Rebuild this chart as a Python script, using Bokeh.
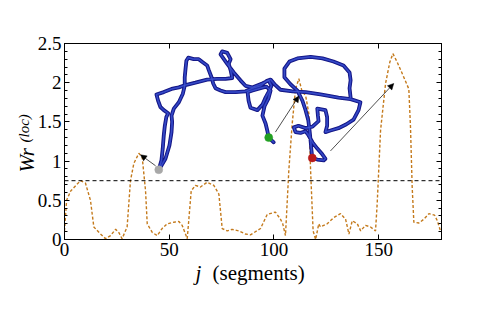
from bokeh.plotting import figure
from bokeh.models import (Range1d, FixedTicker, LinearAxis, Span, Arrow,
                          NormalHead, ColumnDataSource, CustomJSTickFormatter)
from bokeh.core.properties import value
from bokeh.embed import file_html
from bokeh.resources import INLINE

nan = float("nan")

# local writhe along the chain
j_seg = [0, 1, 3, 7.6, 10, 12.4, 14, 17.2, 19.6, 22, 24.4, 25.9, 27.5, 29.9, 31.5,
         33.1, 35.5, 37.1, 38.7, 39.5, 41.9, 44.3, 46.6, 49, 52.2, 54.6, 56.2, 58.6,
         60.5, 62.5, 64.9, 68.1, 71.3, 73.7, 75.3, 77.7, 80, 83.2, 86.4, 88.8, 93.6,
         96.8, 100.7, 103.1, 104.2, 105.5, 107.1, 108.7, 110.3, 111.9, 113.5, 115.1,
         116.7, 117.5, 118.7, 119.9, 121.4, 122.2, 125.4, 128.6, 131.8, 134.2, 135.8,
         137.4, 139.8, 141.4, 143.7, 146.1, 148.5, 149.3, 150.9, 153.3, 155.3, 156.8,
         158.9, 162.0, 164.4, 165.2, 166.0, 166.8, 169.2, 171.6, 174, 176.7, 178, 179.5]
wr_loc = [0.11, 0.5, 0.62, 0.75, 0.72, 0.50, 0.16, 0.07, 0.01, 0.05, 0.13, 0.09, 0.01,
          0.16, 0.75, 0.97, 1.10, 1.05, 0.62, 0.20, 0.09, 0.05, 0.14, 0.20, 0.22, 0.23,
          0.18, 0.01, 0.62, 0.69, 0.67, 0.73, 0.69, 0.58, 0.14, 0.11, 0.13, 0.11, 0.07,
          0.06, 0.14, 0.32, 0.35, 0.26, 0.20, 0.05, 0.88, 1.47, 1.92, 2.05, 1.88, 1.84,
          1.60, 0.88, 0.11, 0.0, 0.20, 0.16, 0.20, 0.28, 0.33, 0.26, 0.07, 0.24, 0.20,
          0.11, 0.18, 0.16, 0.11, 0.46, 1.39, 1.99, 2.26, 2.37, 2.26, 2.07, 1.92, 1.43,
          0.67, 0.22, 0.21, 0.26, 0.33, 0.31, 0.24, 0.11]
threshold = 0.75

# projected chain (inset drawn in data units)
knot_x = [45.0, 46.3, 46.9, 47.4, 47.9, 48.6, 49.5, 47.4, 45.8, 44.7, 43.9, 47.4, 51.1,
          54.6, 57.8, 62.5, 68.1, 72.9, 76.9, 80.1, 79.3, 78.4, 79.3, 77.7, 75.3, 74.5,
          76.1, 77.7, 80.8, 84.0, 86.4, 89.6, 94.4, 97.5, 98.8, 97.4, 96.0, 94.5, 92.1,
          88.8, 87.9, 87.4, 89.8, 93.6, 96.4, 98.4, 97.4, 95.5, 94.5, 96.0, 96.9, 97.5,
          99.9, nan,
          45.8, 48.2, 50.1, 51.1, 51.4, 51.1, 52.2, 54.6, 56.5, 57.4, 57.4, 57.8, 58.2,
          59.1, 61.7, 64.1, 66.0, 68.1, 68.9, 70.2, 71.0, 72.1, 74.5, 76.9, 81.6, 86.4,
          89.8, 93.6, 96.4, 98.4, 100.3, 103.1, 108.9, 115.1, 122.2, 130.8, 136.6, 141.3,
          140.4, 138.0, 134.6, 130.8, 127.0, 124.6, 125.4, 125.4, 124.6, 120.7, 121.0,
          121.3, 118.4, 115.1, 111.7, 109.5, 110.3, 112.7, 115.1, 116.5, 118.4, 120.7,
          123.0, 124.6, 123.8, 120.7, 118.3, 117.9, 117.5, 117.0, 116.4, 115.1, 113.6,
          111.2, 107.9, 105.0, 105.0, 107.4, 111.2, 117.5, 123.2, 128.4, 133.2, 136.1,
          136.6, 136.1, 136.6]
knot_y = [0.89, 1.01, 1.16, 1.33, 1.45, 1.56, 1.61, 1.65, 1.69, 1.77, 1.85, 1.88, 1.92,
          1.94, 1.97, 2.00, 2.04, 2.05, 2.05, 2.06, 2.16, 2.24, 2.30, 2.38, 2.40, 2.36,
          2.30, 2.24, 2.13, 2.03, 1.96, 1.94, 1.99, 2.03, 1.96, 1.88, 1.81, 1.72, 1.65,
          1.68, 1.77, 1.88, 1.90, 1.93, 1.95, 1.90, 1.80, 1.70, 1.58, 1.48, 1.38, 1.30,
          1.24, nan,
          0.92, 1.03, 1.20, 1.37, 1.50, 1.58, 1.67, 1.75, 1.86, 1.96, 2.07, 2.18, 2.28,
          2.32, 2.30, 2.30, 2.26, 2.22, 2.16, 2.07, 1.99, 1.93, 1.90, 1.88, 1.88, 1.89,
          1.93, 1.96, 2.02, 2.04, 1.98, 1.91, 1.89, 1.88, 1.85, 1.81, 1.79, 1.75,
          1.65, 1.53, 1.47, 1.42, 1.39, 1.37, 1.45, 1.56, 1.65, 1.67, 1.58,
          1.51, 1.44, 1.42, 1.45, 1.43, 1.37, 1.36, 1.38, 1.33, 1.24, 1.16,
          1.09, 1.03, 1.01, 1.02, 1.04, 1.14, 1.26, 1.39, 1.52, 1.65, 1.77,
          1.90, 1.98, 2.07, 2.18, 2.27, 2.31, 2.33, 2.31, 2.27, 2.22, 2.13,
          2.03, 1.93, 1.81]

# marked beads and arrows pointing to the corresponding peaks
bead_x = [45.0, 97.5, 118.3]
bead_y = [0.89, 1.30, 1.04]
bead_color = ["#a8a8a8", "#22a022", "#b81a1a"]
arrow_x0 = [43.5, 100.7, 127.0]
arrow_y0 = [0.94, 1.37, 1.13]
arrow_x1 = [36.3, 111.9, 157.2]
arrow_y1 = [1.08, 1.83, 1.99]

x_ticks = [0, 50, 100, 150]
y_ticks = [0, 0.5, 1, 1.5, 2, 2.5]
y_minor = [round(0.1 * i, 1) for i in range(26)]

FONT = "Liberation Serif"

p = figure(width=482, height=316, output_backend="svg", toolbar_location=None,
           x_range=Range1d(0, 180), y_range=Range1d(0, 2.5),
           min_border_left=64, min_border_right=41, min_border_top=43,
           min_border_bottom=77, x_axis_location=None, y_axis_location=None)
p.grid.visible = False
p.outline_line_color = "black"
p.outline_line_width = 1
p.background_fill_color = "white"
p.border_fill_color = "white"

fmt = CustomJSTickFormatter(code="return tick.toString();")


def make_axis(is_x, show_labels):
    ax = LinearAxis()
    if is_x:
        ax.ticker = FixedTicker(ticks=x_ticks, minor_ticks=[])
    else:
        ax.ticker = FixedTicker(ticks=y_ticks, minor_ticks=y_minor)
    ax.formatter = fmt
    ax.axis_line_color = "black"
    ax.major_tick_in = 5
    ax.major_tick_out = 0
    ax.minor_tick_in = 3
    ax.minor_tick_out = 0
    ax.major_tick_line_color = "black"
    ax.minor_tick_line_color = "black"
    ax.major_label_text_font = FONT
    ax.major_label_text_color = "black"
    ax.major_label_text_font_size = "19px"
    ax.major_label_standoff = 3
    if not show_labels:
        ax.major_label_text_alpha = 0
        ax.major_label_text_color = None
        ax.major_label_text_font_size = "1px"
    return ax


p.add_layout(make_axis(True, True), "below")
p.add_layout(make_axis(True, False), "above")
p.add_layout(make_axis(False, True), "left")
p.add_layout(make_axis(False, False), "right")

# Wr(loc) dashed curve
p.line(j_seg, wr_loc, line_color="#c47a1c", line_width=1.4, line_dash="3 2")

# threshold
p.add_layout(Span(location=threshold, dimension="width", line_color="black",
                  line_width=1, line_dash="4 3"))

# chain drawn as a tube
p.line(knot_x, knot_y, line_color="#12127e", line_width=3.8, line_join="round",
       line_cap="round")
p.line(knot_x, knot_y, line_color="#2233b4", line_width=2.2, line_join="round",
       line_cap="round")
p.line(knot_x, knot_y, line_color="#5a70e0", line_width=0.8, line_alpha=0.6,
       line_join="round", line_cap="round")

# arrows
asrc = ColumnDataSource(dict(x0=arrow_x0, y0=arrow_y0, x1=arrow_x1, y1=arrow_y1))
p.add_layout(Arrow(source=asrc, x_start="x0", y_start="y0", x_end="x1", y_end="y1",
                   line_color="black", line_width=0.7,
                   end=NormalHead(size=6, fill_color="black", line_color="black",
                                  line_width=0.5)))

# beads
p.scatter(bead_x, bead_y, size=8, fill_color=bead_color, line_color=bead_color,
          line_width=0.5)

# axis labels as text drawn above everything (positions in px from frame origin)
PX_X = 180 / 377.0
PX_Y = 2.5 / 196.0
LABEL_FONT = "'Liberation Serif'"


def put_text(px, py, txt, size, italic, angle=0.0):
    r = p.text(x=[px * PX_X], y=[py * PX_Y], text=[txt], angle=angle,
               text_font=value(LABEL_FONT), text_font_size=size,
               text_font_style="italic" if italic else "normal",
               text_align="left", text_baseline="middle", text_color="black")
    r.level = "overlay"
    return r


put_text(-37.5, 67, "Wr", "21px", True, 1.5708)
put_text(-40, 97, "(loc)", "15px", True, 1.5708)
put_text(131, -33, "j", "21px", True)
put_text(148, -33, "(segments)", "21px", False)

open("out.html", "w").write(file_html(p, INLINE))
